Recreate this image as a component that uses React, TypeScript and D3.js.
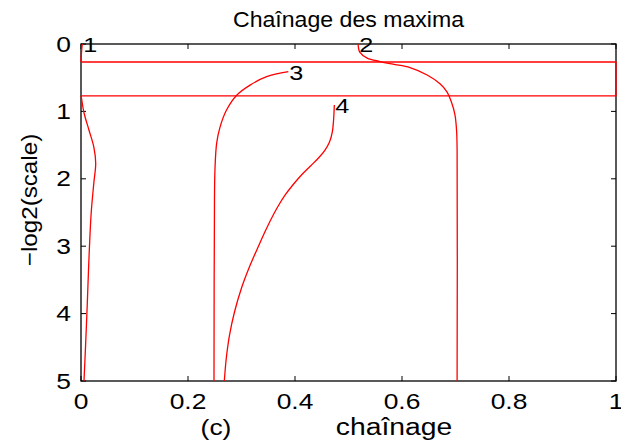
import React from "react";
import * as d3 from "d3";

const title = "Chaînage des maxima";
const xLabel = "chaînage";
const yLabel = "\u2212log2(scale)";
const subLabel = "(c)";
const xTicks = [0, 0.2, 0.4, 0.6, 0.8, 1];
const yTicks = [0, 1, 2, 3, 4, 5];

// curve 1 (upper part, then wrap-around frame, then lower part)
const curve1Top: [number, number][] = [
  [0.0024, 0], [0.0012, 0.1], [0.0, 0.24], [0.0, 0.267],
];
const frameLoop: [number, number][] = [
  [0.0, 0.267], [1.0, 0.267], [1.0, 0.77], [0.0, 0.77],
];
const curve1Bottom: [number, number][] = [
  [0.0, 0.77], [0.0006, 0.79], [0.0056, 1.02], [0.015, 1.28], [0.024, 1.53],
  [0.0275, 1.77], [0.024, 2.06], [0.019, 2.51], [0.015, 3.16], [0.012, 3.8],
  [0.009, 4.39], [0.0056, 5.0],
];
const curve2: [number, number][] = [
  [0.518, 0], [0.5185, 0.045], [0.521, 0.12], [0.535, 0.21], [0.559, 0.26],
  [0.583, 0.3], [0.615, 0.35], [0.647, 0.46], [0.671, 0.59], [0.684, 0.71],
  [0.693, 0.875], [0.699, 1.05], [0.702, 1.28], [0.703, 1.57], [0.703, 5.0],
];
const curve3: [number, number][] = [
  [0.3875, 0.41], [0.347, 0.485], [0.316, 0.61], [0.291, 0.76], [0.272, 0.98],
  [0.26, 1.23], [0.2536, 1.47], [0.2505, 1.84], [0.2495, 2.31], [0.2486, 5.0],
];
const curve4: [number, number][] = [
  [0.4735, 0.905], [0.4721, 1.128], [0.4697, 1.306], [0.4645, 1.454],
  [0.4561, 1.573], [0.4439, 1.691], [0.429, 1.81], [0.4121, 1.944],
  [0.3959, 2.092], [0.3817, 2.24], [0.3697, 2.389], [0.3593, 2.537],
  [0.3454, 2.76], [0.3327, 2.982], [0.314, 3.323], [0.3, 3.62],
  [0.2869, 3.976], [0.2776, 4.318], [0.2716, 4.659], [0.2679, 5.0],
];
const curveLabels = ["1", "2", "3", "4"];
const labelAnchors = [curve1Top[0], curve2[0], curve3[0], curve4[0]];

const W = 621;
const H = 443;
const left = 81, right = 616, top = 44, bottom = 381;

export default function App() {
  const x = d3.scaleLinear().domain([0, 1]).range([left, right]);
  const y = d3.scaleLinear().domain([0, 5]).range([top, bottom]);
  const smooth = d3
    .line<[number, number]>()
    .x((d) => x(d[0]))
    .y((d) => y(d[1]))
    .curve(d3.curveCatmullRom.alpha(0.5));
  const straight = d3
    .line<[number, number]>()
    .x((d) => x(d[0]))
    .y((d) => y(d[1]));
  const font = "'Liberation Sans', Arial, Helvetica, sans-serif";
  const tickLen = 5;
  const red = "#ff0000";
  const sx = 1.2;

  return (
    <svg
      width={W}
      height={H}
      style={{ position: "absolute", left: 0, top: 0, background: "#fff" }}
      fontFamily={font}
    >
      <rect x={0} y={0} width={W} height={H} fill="#fff" />
      {/* axes box */}
      <rect
        x={left}
        y={top}
        width={right - left}
        height={bottom - top}
        fill="none"
        stroke="#000"
        strokeWidth={1.3}
      />
      {xTicks.map((t) => (
        <g key={"xt" + t}>
          <line x1={x(t)} x2={x(t)} y1={bottom} y2={bottom - tickLen} stroke="#000" />
          <line x1={x(t)} x2={x(t)} y1={top} y2={top + tickLen} stroke="#000" />
          <text
            transform={`translate(${x(t)},409) scale(${sx},1)`}
            textAnchor="middle"
            fontSize={22}
          >
            {String(t)}
          </text>
        </g>
      ))}
      {yTicks.map((t) => (
        <g key={"yt" + t}>
          <line x1={left} x2={left + tickLen} y1={y(t)} y2={y(t)} stroke="#000" />
          <line x1={right} x2={right - tickLen} y1={y(t)} y2={y(t)} stroke="#000" />
          <text
            transform={`translate(71,${y(t)}) scale(${sx},1)`}
            textAnchor="end"
            dominantBaseline="central"
            fontSize={22}
          >
            {String(t)}
          </text>
        </g>
      ))}
      {/* curves */}
      <g fill="none" stroke={red} strokeWidth={1.3}>
        <path d={smooth(curve1Top) || ""} />
        <path d={straight(frameLoop) || ""} />
        <path d={smooth(curve1Bottom) || ""} />
        <path d={smooth(curve2) || ""} />
        <path d={smooth(curve3) || ""} />
        <path d={smooth(curve4) || ""} />
      </g>
      {curveLabels.map((l, i) => (
        <text
          key={"cl" + l}
          transform={`translate(${x(labelAnchors[i][0]) + 1},${y(labelAnchors[i][1]) + 1}) scale(${sx},1)`}
          dominantBaseline="central"
          fontSize={21}
        >
          {l}
        </text>
      ))}
      <text
        transform={`translate(${(left + right) / 2},27) scale(1.05,1)`}
        textAnchor="middle"
        fontSize={22}
      >
        {title}
      </text>
      <text
        transform={`translate(394,435) scale(1.23,1)`}
        textAnchor="middle"
        fontSize={23}
      >
        {xLabel}
      </text>
      <text
        transform={`translate(216,435) scale(${sx},1)`}
        textAnchor="middle"
        fontSize={22}
      >
        {subLabel}
      </text>
      <text
        transform={`translate(37,200) rotate(-90) scale(1.1,1)`}
        textAnchor="middle"
        fontSize={22}
      >
        {yLabel}
      </text>
    </svg>
  );
}
